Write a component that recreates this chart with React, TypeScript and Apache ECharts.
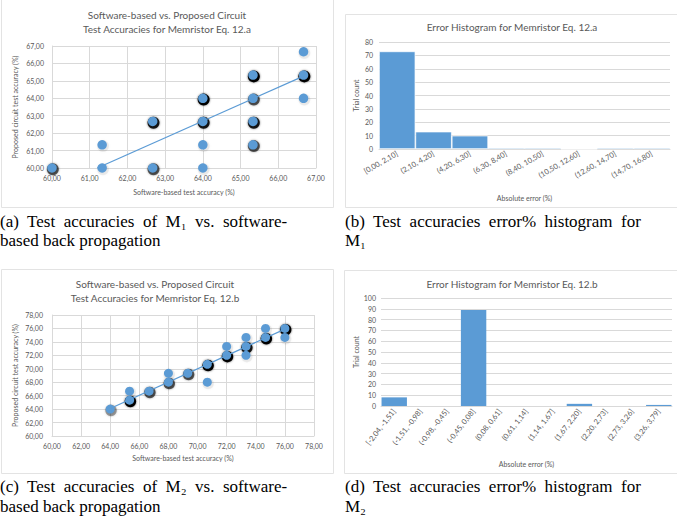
import React, { useEffect, useRef } from "react";
import * as echarts from "echarts";

// ---------- data ----------
// Panel (a): [software acc, circuit acc, overlapping trials]
const pointsA: number[][] = [
  [60.0, 60.0, 3],
  [61.33, 61.33, 1],
  [61.33, 60.0, 1],
  [62.67, 62.67, 4],
  [62.67, 60.0, 3],
  [64.0, 64.0, 5],
  [64.0, 62.67, 4],
  [64.0, 61.33, 1],
  [64.0, 60.0, 1],
  [65.33, 65.33, 8],
  [65.33, 64.0, 3],
  [65.33, 62.67, 4],
  [65.33, 61.33, 3],
  [66.67, 66.67, 1],
  [66.67, 65.33, 6],
  [66.67, 64.0, 1],
];
const trendA: number[][] = [
  [61.2, 60.0],
  [66.67, 65.27],
];

// Panel (b)
const binsB = [
  "[0,00, 2,10]",
  "(2,10, 4,20]",
  "(4,20, 6,30]",
  "(6,30, 8,40]",
  "(8,40, 10,50]",
  "(10,50, 12,60]",
  "(12,60, 14,70]",
  "(14,70, 16,80]",
];
const countsB = [73, 13, 10, 1, 1, 0, 1, 1];

// Panel (c)
const pointsC: number[][] = [
  [64.0, 64.0, 2],
  [65.33, 66.67, 1],
  [65.33, 65.33, 5],
  [66.67, 66.67, 3],
  [68.0, 69.33, 1],
  [68.0, 68.0, 3],
  [69.33, 69.33, 3],
  [70.67, 70.67, 8],
  [70.67, 68.0, 1],
  [72.0, 73.33, 1],
  [72.0, 72.0, 5],
  [73.33, 74.67, 1],
  [73.33, 73.33, 4],
  [73.33, 72.0, 1],
  [74.67, 76.0, 1],
  [74.67, 74.67, 8],
  [76.0, 76.0, 5],
  [76.0, 74.67, 1],
];
const trendC: number[][] = [
  [64.0, 64.1],
  [76.0, 75.9],
];

// Panel (d)
const binsD = [
  "[-2,04, -1,51]",
  "(-1,51, -0,98]",
  "(-0,98, -0,45]",
  "(-0,45, 0,08]",
  "(0,08, 0,61]",
  "(0,61, 1,14]",
  "(1,14, 1,67]",
  "(1,67, 2,20]",
  "(2,20, 2,73]",
  "(2,73, 3,26]",
  "(3,26, 3,79]",
];
const countsD = [8, 0, 0, 89, 0, 0, 0, 2, 0, 0, 1];

const titleA = ["Software-based vs. Proposed Circuit", "Test Accuracies for Memristor Eq. 12.a"];
const titleB = "Error Histogram for Memristor Eq. 12.a";
const titleC = ["Software-based vs. Proposed Circuit", "Test Accuracies for Memristor Eq. 12.b"];
const titleD = "Error Histogram for Memristor Eq. 12.b";
const xNameScatter = "Software-based test accuracy (%)";
const yNameScatter = "Proposed circuit test accuracy (%)";
const xNameHist = "Absolute error (%)";
const yNameHist = "Trial count";
const captions = {
  a: ["(a)  Test  accuracies  of  M\u2081  vs.  software-", "based back propagation"],
  b: ["(b)  Test  accuracies  error%  histogram  for", "M\u2081"],
  c: ["(c)  Test  accuracies  of  M\u2082  vs.  software-", "based back propagation"],
  d: ["(d)  Test  accuracies  error%  histogram  for", "M\u2082"],
};

// ---------- styles ----------
const FONT = 'Lato, "Open Sans", sans-serif';
const SERIF = '"Liberation Serif", "DejaVu Serif", serif';
const BLUE = "#5B9BD5";
const GRID = "#D9D9D9";
const TXT = "#595959";
const CAP = 17;

const fmt2 = (v: number) => v.toFixed(2).replace(".", ",");

function scatterAxis(min: number, max: number, interval: number, gridIndex: number, extra: any) {
  return {
    type: "value",
    gridIndex,
    min,
    max,
    interval,
    axisLine: { show: true, lineStyle: { color: GRID, width: 1 } },
    axisTick: { show: false },
    splitLine: { show: true, lineStyle: { color: GRID, width: 1 } },
    axisLabel: { formatter: fmt2, color: TXT, fontSize: 7, fontFamily: FONT },
    nameLocation: "middle",
    nameTextStyle: { color: TXT, fontSize: 7, fontFamily: FONT },
    ...extra,
  };
}

function haloData(pts: number[][]) {
  return pts.map((p) => ({
    value: [p[0], p[1]],
    itemStyle: { opacity: Math.min(1, 0.06 + (p[2] - 1) * 0.27) },
  }));
}

function textEl(x: number, y: number, text: string, fontSize: number, align: string, fill: string, family: string, rotation = 0) {
  return {
    type: "text",
    x,
    y,
    rotation,
    style: {
      text,
      fontSize,
      fontFamily: family,
      fill,
      align,
      verticalAlign: "middle",
    },
    silent: true,
  };
}

function boxEl(x: number, y: number, w: number, h: number) {
  return {
    type: "rect",
    shape: { x: x + 0.5, y: y + 0.5, width: w, height: h },
    style: { fill: "none", stroke: "#E3E3E3", lineWidth: 1 },
    silent: true,
    z: -1,
  };
}

export default function App() {
  const ref = useRef<HTMLDivElement>(null);
  useEffect(() => {
    if (!ref.current) return;
    const chart = echarts.init(ref.current, null, { renderer: "svg" });
    const option: any = {
      animation: false,
      backgroundColor: "#ffffff",
      grid: [
        { left: 52, top: 46, width: 264, height: 122 },
        { left: 379, top: 42, width: 291, height: 107 },
        { left: 52, top: 315, width: 262, height: 121 },
        { left: 381, top: 298, width: 291, height: 108 },
      ],
      xAxis: [
        scatterAxis(60, 67, 1, 0, { name: xNameScatter, nameGap: 20, axisLabel: { formatter: fmt2, color: TXT, fontSize: 7, fontFamily: FONT, margin: 6 } }),
        {
          type: "category",
          gridIndex: 1,
          data: binsB,
          axisLine: { show: true, lineStyle: { color: GRID } },
          axisTick: { show: false },
          axisLabel: { interval: 0, rotate: 30, color: TXT, fontSize: 7.5, fontFamily: FONT, margin: 4 },
          name: xNameHist,
          nameLocation: "middle",
          nameGap: 45,
          nameTextStyle: { color: TXT, fontSize: 7, fontFamily: FONT },
        },
        scatterAxis(60, 78, 2, 2, { name: xNameScatter, nameGap: 18, axisLabel: { formatter: fmt2, color: TXT, fontSize: 7, fontFamily: FONT, margin: 6 } }),
        {
          type: "category",
          gridIndex: 3,
          data: binsD,
          axisLine: { show: true, lineStyle: { color: GRID } },
          axisTick: { show: false },
          axisLabel: { interval: 0, rotate: 52, color: TXT, fontSize: 7.5, fontFamily: FONT, margin: 4 },
          name: xNameHist,
          nameLocation: "middle",
          nameGap: 54,
          nameTextStyle: { color: TXT, fontSize: 7, fontFamily: FONT },
        },
      ],
      yAxis: [
        scatterAxis(60, 67, 1, 0, { name: yNameScatter, nameGap: 34, axisLabel: { formatter: fmt2, color: TXT, fontSize: 7, fontFamily: FONT, margin: 8 } }),
        {
          type: "value",
          gridIndex: 1,
          min: 0,
          max: 80,
          interval: 10,
          axisLine: { show: false },
          axisTick: { show: false },
          splitLine: { lineStyle: { color: GRID } },
          axisLabel: { color: TXT, fontSize: 7, fontFamily: FONT, margin: 6 },
          name: yNameHist,
          nameLocation: "middle",
          nameGap: 20,
          nameTextStyle: { color: TXT, fontSize: 7, fontFamily: FONT },
        },
        scatterAxis(60, 78, 2, 2, { name: yNameScatter, nameGap: 34, axisLabel: { formatter: fmt2, color: TXT, fontSize: 7, fontFamily: FONT, margin: 9 } }),
        {
          type: "value",
          gridIndex: 3,
          min: 0,
          max: 100,
          interval: 10,
          axisLine: { show: false },
          axisTick: { show: false },
          splitLine: { lineStyle: { color: GRID } },
          axisLabel: { color: TXT, fontSize: 7, fontFamily: FONT, margin: 5 },
          name: yNameHist,
          nameLocation: "middle",
          nameGap: 21,
          nameTextStyle: { color: TXT, fontSize: 7, fontFamily: FONT },
        },
      ],
      series: [
        {
          type: "scatter",
          xAxisIndex: 0,
          yAxisIndex: 0,
          symbolSize: 12,
          symbolOffset: [0.8, 1.3],
          itemStyle: { color: "#000", shadowBlur: 2, shadowColor: "rgba(0,0,0,0.6)" },
          data: haloData(pointsA),
          z: 2,
        },
        {
          type: "scatter",
          xAxisIndex: 0,
          yAxisIndex: 0,
          symbolSize: 9.5,
          itemStyle: { color: BLUE, opacity: 1 },
          data: pointsA.map((p) => [p[0], p[1]]),
          z: 3,
        },
        {
          type: "line",
          xAxisIndex: 0,
          yAxisIndex: 0,
          data: trendA,
          showSymbol: false,
          lineStyle: { color: BLUE, width: 1.2 },
          z: 4,
        },
        {
          type: "bar",
          xAxisIndex: 1,
          yAxisIndex: 1,
          data: countsB,
          barCategoryGap: "0%",
          itemStyle: { color: BLUE, borderColor: "#ffffff", borderWidth: 0.7 },
        },
        {
          type: "scatter",
          xAxisIndex: 2,
          yAxisIndex: 2,
          symbolSize: 11.5,
          symbolOffset: [0.8, 1.3],
          itemStyle: { color: "#000", shadowBlur: 2, shadowColor: "rgba(0,0,0,0.6)" },
          data: haloData(pointsC),
          z: 2,
        },
        {
          type: "scatter",
          xAxisIndex: 2,
          yAxisIndex: 2,
          symbolSize: 9,
          itemStyle: { color: BLUE, opacity: 1 },
          data: pointsC.map((p) => [p[0], p[1]]),
          z: 3,
        },
        {
          type: "line",
          xAxisIndex: 2,
          yAxisIndex: 2,
          data: trendC,
          showSymbol: false,
          lineStyle: { color: BLUE, width: 1.2 },
          z: 4,
        },
        {
          type: "bar",
          xAxisIndex: 3,
          yAxisIndex: 3,
          data: countsD,
          barCategoryGap: "4%",
          itemStyle: { color: BLUE },
        },
      ],
      graphic: [
        boxEl(1, -2, 332, 209),
        boxEl(345, 14, 340, 193),
        boxEl(1, 269, 332, 204),
        boxEl(344, 270, 340, 203),
        textEl(167, 15, titleA[0], 10, "center", TXT, FONT),
        textEl(167, 28.5, titleA[1], 10, "center", TXT, FONT),
        textEl(512, 27, titleB, 10, "center", TXT, FONT),
        textEl(155, 284, titleC[0], 10, "center", TXT, FONT),
        textEl(155, 298, titleC[1], 10, "center", TXT, FONT),
        textEl(512, 284, titleD, 10, "center", TXT, FONT),
        textEl(0, 221, captions.a[0], CAP, "left", "#000", SERIF),
        textEl(0, 240, captions.a[1], CAP, "left", "#000", SERIF),
        textEl(345, 221, captions.b[0], CAP, "left", "#000", SERIF),
        textEl(345, 240, captions.b[1], CAP, "left", "#000", SERIF),
        textEl(0, 486, captions.c[0], CAP, "left", "#000", SERIF),
        textEl(0, 506, captions.c[1], CAP, "left", "#000", SERIF),
        textEl(345, 486, captions.d[0], CAP, "left", "#000", SERIF),
        textEl(345, 506, captions.d[1], CAP, "left", "#000", SERIF),
      ],
    };
    chart.setOption(option);
    return () => chart.dispose();
  }, []);
  return (
    <div
      ref={ref}
      style={{ position: "absolute", left: 0, top: 0, width: 677, height: 522, background: "#fff" }}
    />
  );
}
